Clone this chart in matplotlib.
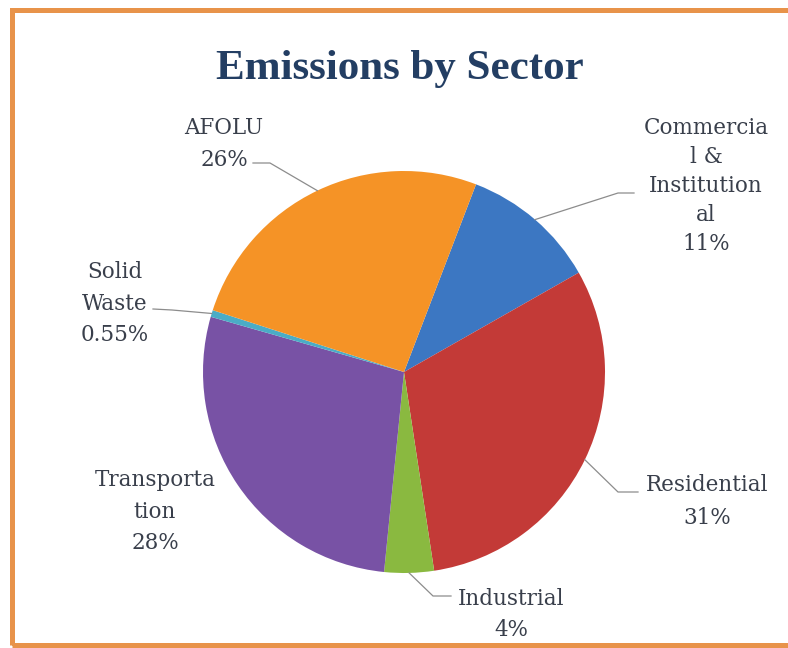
import matplotlib
matplotlib.use("Agg")
import matplotlib.pyplot as plt
from matplotlib.patches import Rectangle
import numpy as np

# ---- data ----
sector_labels = ["Commercia\nl &\nInstitution\nal", "Residential", "Industrial",
                 "Transporta\ntion", "Solid\nWaste", "AFOLU"]
shares = [11, 31, 4, 28, 0.55, 26]
share_labels = ["11%", "31%", "4%", "28%", "0.55%", "26%"]
colors = ["#3C77C2", "#C33A37", "#8AB940", "#7852A5", "#4BACC6", "#F59326"]
title = "Emissions by Sector"

W, H = 788, 648
fig = plt.figure(figsize=(W / 100, H / 100), dpi=100)
fig.patch.set_facecolor("white")

# pie axes (centre ~ (404, 372) px from top-left, radius ~201 px)
cx, cy, r = 404, 372, 201
ax = fig.add_axes([(cx - r) / W, (H - cy - r) / H, 2 * r / W, 2 * r / H])
wedges, _ = ax.pie(shares, colors=colors, startangle=69, counterclock=False,
                   radius=1.0, wedgeprops=dict(linewidth=0))
ax.set_xlim(-1, 1)
ax.set_ylim(-1, 1)
ax.set_aspect("equal")
ax.axis("off")

def px2data(px, py):
    return ax.transData.inverted().transform((px, H - py))

label_color = "#393F4B"
font = "DejaVu Serif"
fs = 15.5

# label placement (centre x, first-line y, line step) in pixels from top-left
placements = [
    (706, 128, 29),   # Commercial
    (707, 485, 33),   # Residential
    (511, 599, 31),   # Industrial
    (155, 480, 31.5), # Transportation
    (115, 272, 31.5), # Solid Waste
    (224, 128, 32),   # AFOLU
]
# leader knee/end points in pixels (None = no leader)
leaders = [
    ((618, 193), (634, 193)),
    ((618, 492), (638, 492)),
    ((433, 596), (451, 596)),
    None,
    ((172, 310), (153, 309)),
    ((270, 163), (253, 163)),
]

for w, name, pct, (lx, ly, step), ld in zip(wedges, sector_labels, share_labels,
                                            placements, leaders):
    lines = name.split("\n") + [pct]
    for i, t in enumerate(lines):
        fig.text(lx / W, 1 - (ly + i * step) / H, t, ha="center", va="center",
                 fontsize=fs, family=font, color=label_color)
    if ld is not None:
        mid = np.deg2rad((w.theta1 + w.theta2) / 2)
        ex, ey = np.cos(mid), np.sin(mid)
        k = px2data(*ld[0])
        e = px2data(*ld[1])
        ax.plot([ex, k[0], e[0]], [ey, k[1], e[1]], color="#8C8C8C",
                linewidth=0.9, clip_on=False)

fig.text(400 / W, 1 - 69 / H, title, ha="center", va="center", fontsize=31,
         family="Liberation Serif", fontweight="bold", color="#233E63")

# orange frame (right side runs beyond the image)
fig.patches.append(Rectangle((12 / W, 3 / H), 1.2, (H - 10 - 3) / H,
                             transform=fig.transFigure, fill=False,
                             edgecolor="#E8934A", linewidth=3.6))

fig.savefig("out.png", dpi=100)
